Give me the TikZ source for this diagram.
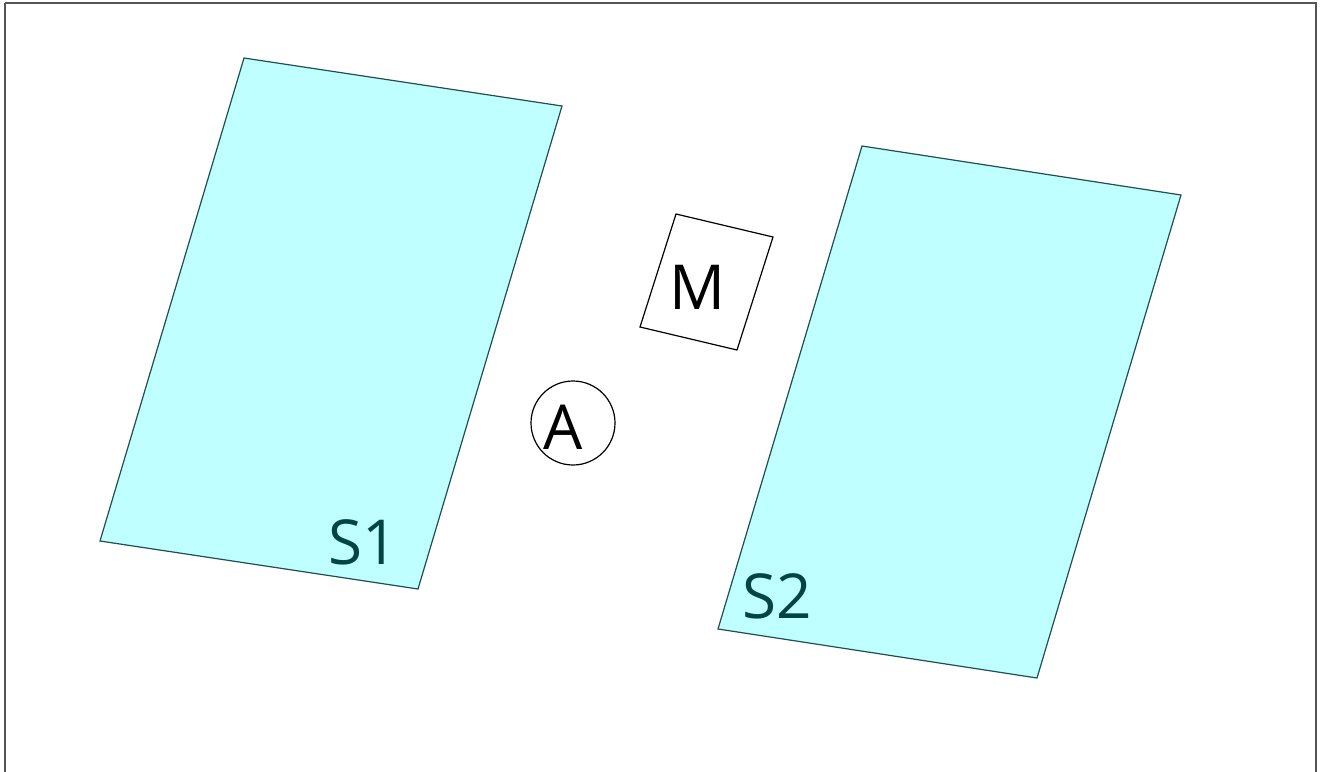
\documentclass[tikz,border=0pt]{standalone}
\usepackage{fontspec}
\setmainfont{Open Sans}
\definecolor{slab}{HTML}{BFFFFF}
\definecolor{slabline}{HTML}{1F4F4F}
\definecolor{slabtext}{HTML}{004444}
\definecolor{framegray}{HTML}{555555}
\begin{document}
\begin{tikzpicture}[x=1pt,y=-1pt,
  slabshape/.style={draw=slabline,fill=slab,line width=1.2pt,line join=miter},
  slablabel/.style={text=slabtext,font=\fontsize{62}{62}\selectfont,inner sep=0pt},
  blacklabel/.style={text=black,font=\fontsize{62}{62}\selectfont,inner sep=0pt}]
\useasboundingbox (0,0) rectangle (1322,771);
\draw[framegray,line width=2pt] (5,3) -- (1316,3) -- (1316,780);
\draw[framegray,line width=2pt] (5,3) -- (5,780);
% S1
\draw[slabshape] (244,58) coordinate (s1a) -- (562,106) coordinate (s1b) -- (418,589) coordinate (s1c) -- (100,541) coordinate (s1d) -- cycle;
\node[slablabel] (S1) at (363,542) {S1};
% S2
\draw[slabshape] (862,146) coordinate (s2a) -- (1181,195) coordinate (s2b) -- (1037,678) coordinate (s2c) -- (718,629) coordinate (s2d) -- cycle;
\node[slablabel] (S2) at (777,596) {S2};
% M
\draw[black,line width=1.2pt] (676,214) coordinate (ma) -- (773,237) coordinate (mb) -- (737,350) coordinate (mc) -- (640,327) coordinate (md) -- cycle;
\node[blacklabel] (M) at (697,287) {M};
% A
\draw[black,line width=1.2pt] (573,423) circle[radius=42];
\node[blacklabel] (A) at (563,427) {A};
\end{tikzpicture}
\end{document}
